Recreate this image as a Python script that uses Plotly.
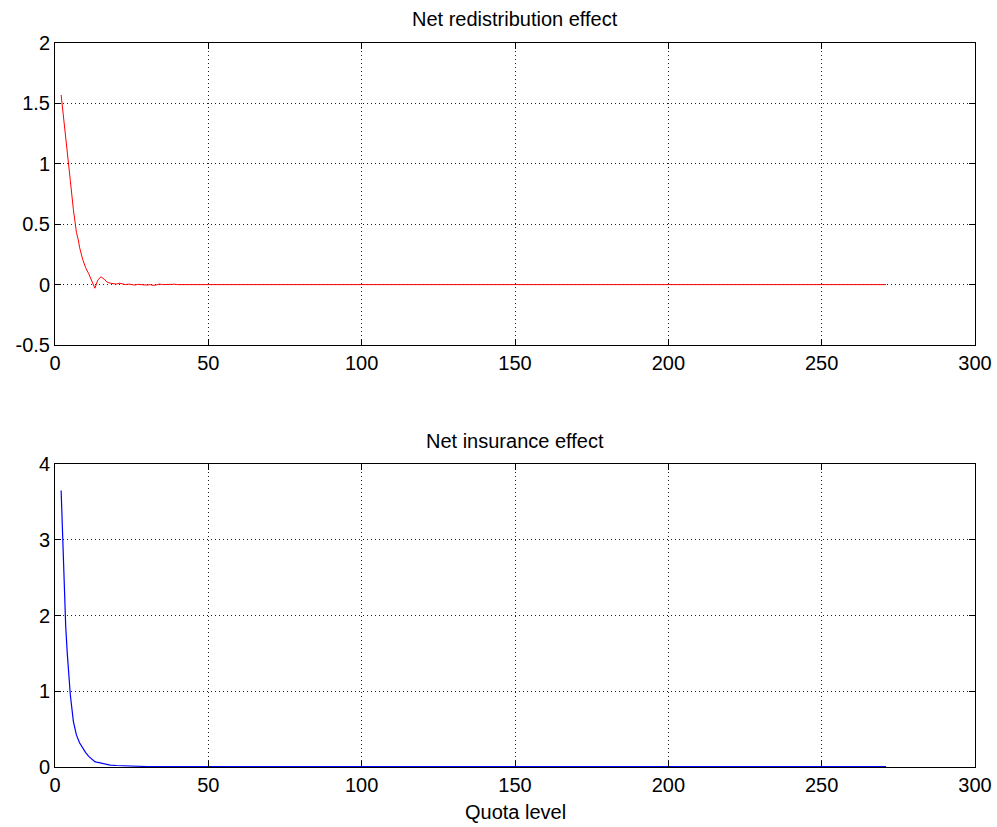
import plotly.graph_objects as go

# Top panel: Net redistribution effect
redis_x = [2, 3, 4, 5, 6, 7, 7.6, 8, 9, 10, 11, 12, 13, 14, 15, 16, 17, 18, 19, 20,
           21, 22, 23, 24, 25, 26, 27, 28, 29, 30, 31, 32, 33, 34, 35, 36, 37, 38, 39, 40, 41, 271]
redis_y = [1.57, 1.35, 1.10, 0.86, 0.62, 0.43, 0.37, 0.31, 0.21, 0.14, 0.09, 0.03, -0.03, 0.04, 0.065,
           0.045, 0.02, 0.012, 0.008, 0.004, 0.012, 0.006, 0.0, 0.004, 0.003, -0.004, 0.002, 0.0,
           -0.006, -0.004, 0.0, -0.006, -0.003, 0.004, 0.0, 0.002, 0.004, 0.006, 0.003, 0.0, 0.0, 0.0]

# Bottom panel: Net insurance effect
ins_x = [2, 2.2, 2.5, 3, 3.5, 4, 4.5, 5, 6, 7, 8, 9, 10, 11, 12, 13, 14, 15, 16, 18, 20, 25, 30, 271]
ins_y = [3.65, 3.40, 2.95, 2.30, 1.85, 1.50, 1.20, 0.95, 0.60, 0.42, 0.32, 0.25, 0.19, 0.14, 0.10,
         0.07, 0.06, 0.05, 0.04, 0.025, 0.02, 0.01, 0.006, 0.004]

top_ticks = [-0.5, 0, 0.5, 1, 1.5, 2]
top_ticktext = ["-0.5", "0", "0.5", "1", "1.5", "2"]
bot_ticks = [0, 1, 2, 3, 4]
x_ticks = [0, 50, 100, 150, 200, 250, 300]

FONT = "Liberation Sans, Arial, sans-serif"
W, H = 997, 827
FS = 20

fig = go.Figure()
fig.add_trace(go.Scatter(x=redis_x, y=redis_y, mode="lines",
                         line=dict(color="#ff0000", width=1), xaxis="x", yaxis="y", showlegend=False))
fig.add_trace(go.Scatter(x=ins_x, y=ins_y, mode="lines",
                         line=dict(color="#0000ff", width=1.2), xaxis="x2", yaxis="y2", showlegend=False))

axis_common = dict(
    showline=True, linecolor="black", linewidth=1, mirror="ticks",
    ticks="inside", ticklen=6, tickcolor="black", automargin=False,
    showgrid=True, gridcolor="#222222", griddash="1px,3px", gridwidth=1,
    zeroline=False, tickfont=dict(family=FONT, size=FS, color="black"),
)

xd = [55 / W, 975 / W]
xc = (xd[0] + xd[1]) / 2
fig.update_layout(
    width=W, height=H,
    margin=dict(l=0, r=0, t=0, b=0, autoexpand=False),
    paper_bgcolor="white", plot_bgcolor="white",
    font=dict(family=FONT, color="black"),
    xaxis=dict(domain=xd, range=[0, 300], tickvals=x_ticks, anchor="y", **axis_common),
    yaxis=dict(domain=[1 - 345 / H, 1 - 43 / H], range=[-0.5, 2], tickvals=top_ticks,
               ticktext=top_ticktext, anchor="x", **axis_common),
    xaxis2=dict(domain=xd, range=[0, 300], tickvals=x_ticks, anchor="y2", **axis_common),
    yaxis2=dict(domain=[1 - 767 / H, 1 - 464 / H], range=[0, 4], tickvals=bot_ticks,
                anchor="x2", **axis_common),
    annotations=[
        dict(text="Net redistribution effect", x=xc, y=1 - 19 / H,
             xref="paper", yref="paper", showarrow=False, xanchor="center", yanchor="middle",
             font=dict(family=FONT, size=FS, color="black")),
        dict(text="Net insurance effect", x=xc, y=1 - 441 / H,
             xref="paper", yref="paper", showarrow=False, xanchor="center", yanchor="middle",
             font=dict(family=FONT, size=FS, color="black")),
        dict(text="Quota level", x=xc, y=1 - 812 / H,
             xref="paper", yref="paper", showarrow=False, xanchor="center", yanchor="middle",
             font=dict(family=FONT, size=FS, color="black")),
    ],
)

fig.write_html("out.html")
